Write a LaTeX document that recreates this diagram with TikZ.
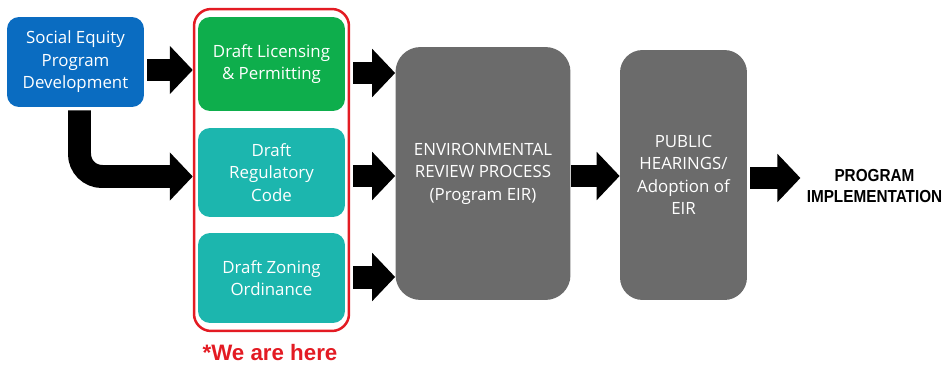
\documentclass[tikz,border=0pt]{standalone}
\usepackage{fontspec}
\setmainfont{Open Sans}
\newfontfamily\herefont{Liberation Sans}
\newfontfamily\condfont[FakeStretch=0.88]{Liberation Sans}
\usetikzlibrary{arrows.meta,positioning}
\definecolor{socblue}{HTML}{0A6CC1}
\definecolor{licgreen}{HTML}{0EAE4C}
\definecolor{draftteal}{HTML}{1CB6AE}
\definecolor{revgrey}{HTML}{6B6B6B}
\definecolor{herered}{HTML}{E31B23}
\tikzset{
  stepbox/.style={rounded corners=0.24cm, inner sep=0pt, text=white, align=center,
    font=\fontsize{9.6}{12.8}\selectfont},
  draftbox/.style={stepbox, minimum width=2.94cm},
  bigbox/.style={stepbox, fill=revgrey, rounded corners=0.5cm},
  blk/.style={line width=0.46cm, -{Triangle[length=0.46cm,width=0.94cm]}},
}
\begin{document}
\begin{tikzpicture}[x=0.02cm, y=-0.02cm]
		\useasboundingbox (0,0) rectangle (944,372);
		% red frame round the three drafts
		\node [draw=herered, line width=0.05cm, rounded corners=0.34cm, minimum width=3.1cm, minimum height=6.44cm](grp) at (271.5,170) {};
		\node [stepbox, fill=socblue, minimum width=2.74cm, minimum height=1.8cm](soc) at (75.5,62) {Social Equity\\Program\\Development};
		\node [draftbox, fill=licgreen, minimum height=1.88cm](lic) at (271.5,64) {Draft Licensing\\\& Permitting};
		\node [draftbox, fill=draftteal, minimum height=1.78cm](reg) at (271.5,172.5) {Draft\\Regulatory\\Code};
		\node [draftbox, fill=draftteal, minimum height=1.8cm](zon) at (271.5,278) {Draft Zoning\\Ordinance};
		\node [bigbox, minimum width=3.5cm, minimum height=5.06cm](env) at (483,173.5) {ENVIRONMENTAL\\REVIEW PROCESS\\(Program EIR)};
		\node [bigbox, rounded corners=0.45cm, minimum width=2.54cm, minimum height=5cm](pub) at (683.5,175) {PUBLIC\\HEARINGS/\\Adoption of\\EIR};
		\node [inner sep=0pt, align=center, font=\condfont\bfseries\fontsize{9.9}{12.5}\selectfont](impl) at (874.5,186) {PROGRAM\\IMPLEMENTATION};
		\node [text=herered, font=\herefont\bfseries\fontsize{12.7}{14}\selectfont](here) at (270,353) {*We are here};
		% block arrows
		\draw [blk] ([shift={(3,8)}]soc.east) -- ([shift={(0,8)}]soc.east -| grp.west);
		\draw [blk, rounded corners=0.45cm] ([shift={(4,3)}]soc.south) |- ([shift={(0,4)}]grp.west |- reg);
		\draw [blk] ([shift={(3,9)}]grp.east |- lic) -- ([shift={(0,9)}]env.west |- lic);
		\draw [blk] ([shift={(3,3.5)}]grp.east |- reg) -- ([shift={(0,3.5)}]env.west |- reg);
		\draw [blk] ([shift={(3,-1)}]grp.east |- zon) -- ([shift={(0,-1)}]env.west |- zon);
		\draw [blk] ([shift={(0,2.5)}]env.east) -- ([shift={(0,2.5)}]env.east -| pub.west);
		\draw [blk] ([shift={(3,3)}]pub.east) -- ([shift={(-6,3)}]pub.east -| impl.west);
\end{tikzpicture}
\end{document}
